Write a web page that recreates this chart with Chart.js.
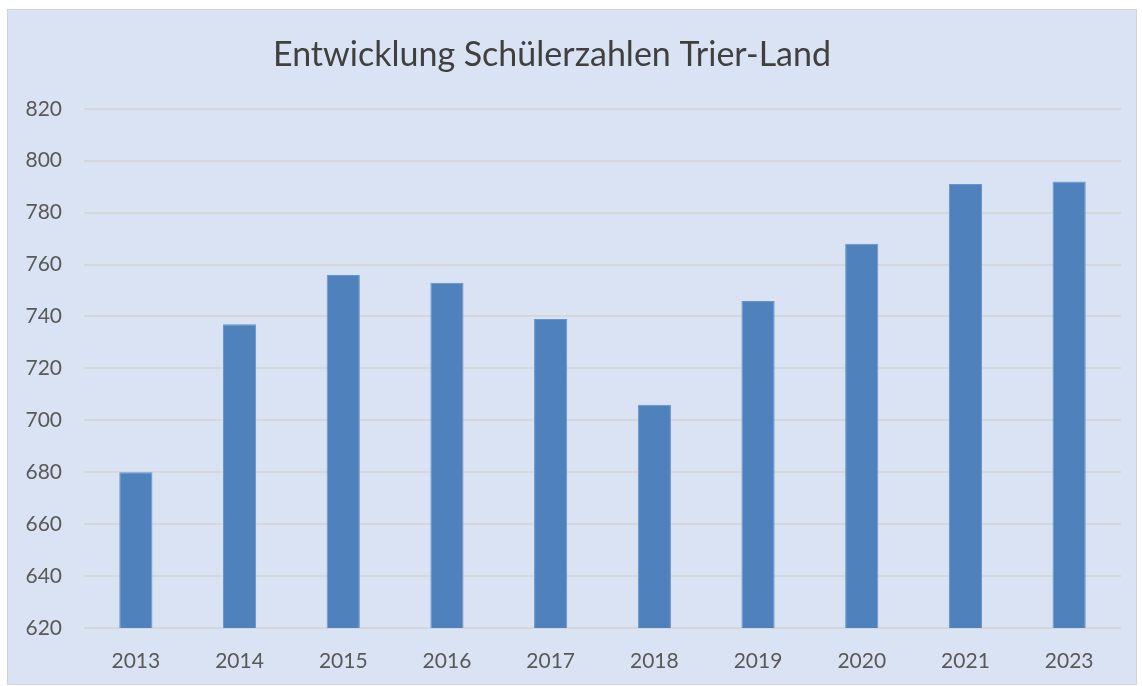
<!DOCTYPE html>
<html>
<head>
<meta charset="utf-8">
<script src="https://cdn.jsdelivr.net/npm/chart.js@4/dist/chart.umd.min.js"></script>
<style>
  html, body { margin: 0; padding: 0; background: #fff; }
  #panel {
    position: absolute; left: 7px; top: 9px;
    width: 1128px; height: 674px;
    background: #dae3f3; border: 1px solid #d0d3d8;
  }
  #panel canvas { display: block; }
</style>
</head>
<body>
<div id="panel"><canvas id="chart" width="1128" height="674"></canvas></div>
<script>
const years = ["2013", "2014", "2015", "2016", "2017", "2018", "2019", "2020", "2021", "2023"];
const pupils = [680, 737, 756, 753, 739, 706, 746, 768, 791, 792];
const yMin = 620;
const yMax = 820;
const yStep = 20;
const chartTitle = "Entwicklung Schülerzahlen Trier-Land";

const tickFont = { family: "Lato", size: 21 };

// the title in the original sits a little left of the canvas centre
const nudgeTitle = {
  id: "nudgeTitle",
  afterLayout(chart) {
    if (chart.titleBlock) chart.titleBlock.right -= 25;
  },
};

new Chart(document.getElementById("chart"), {
  type: "bar",
  data: {
    labels: years,
    datasets: [
      {
        label: "Schüler",
        data: pupils,
        backgroundColor: "#4f81bd",
        borderColor: "#6a93c8",
        borderWidth: 1,
        categoryPercentage: 1,
        barPercentage: 0.32,
      },
    ],
  },
  options: {
    responsive: false,
    animation: false,
    layout: { padding: { left: 0, right: 15, top: 0, bottom: 0 } },
    plugins: {
      legend: { display: false },
      tooltip: { enabled: false },
      title: {
        display: true,
        text: chartTitle,
        color: "#404040",
        font: { family: "Lato", size: 34, weight: "normal" },
        padding: { top: 25, bottom: 33 },
      },
    },
    scales: {
      x: {
        grid: { display: false },
        border: { display: false },
        ticks: { color: "#595959", font: tickFont, padding: 13, maxRotation: 0 },
        afterFit: (scale) => { scale.height = 56; },
      },
      y: {
        min: yMin,
        max: yMax,
        grid: { color: "#d4d7dc", lineWidth: 2, drawTicks: false },
        border: { display: false },
        ticks: { stepSize: yStep, color: "#595959", font: tickFont, padding: 22 },
        afterFit: (scale) => { scale.width = 76; },
      },
    },
  },
  plugins: [nudgeTitle],
});
</script>
</body>
</html>
